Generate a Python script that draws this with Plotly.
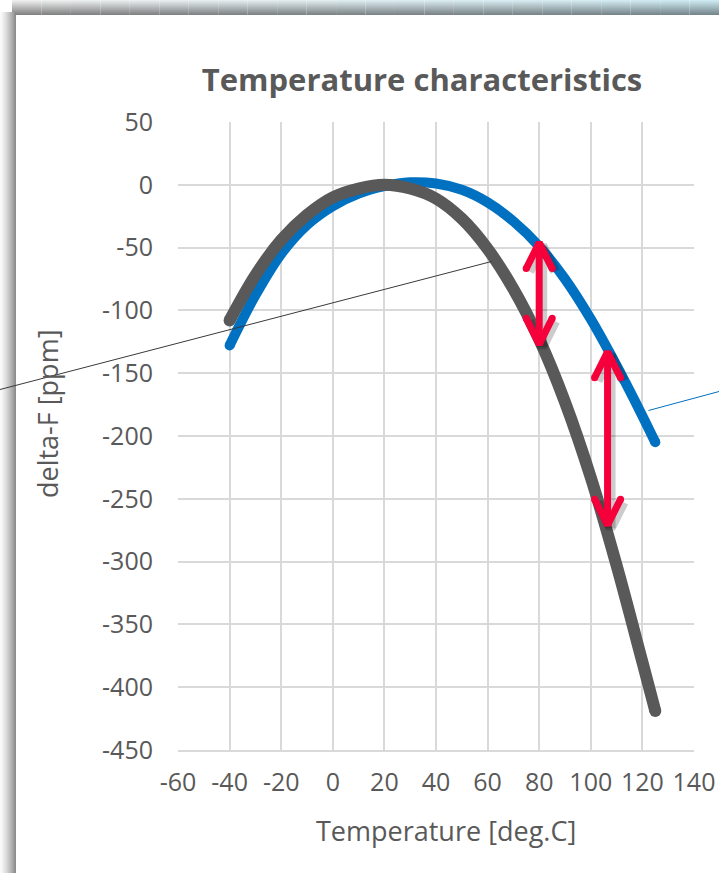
import plotly.graph_objects as go

# ---------------- data ----------------
TEMP = [-40, -30, -20, -10, 0, 10, 20, 30, 40, 50, 60, 70, 80, 90, 100, 110, 120, 125]
DF_GRAY = [-108, -72, -44, -24, -10, -3, 0, -3, -11, -27, -51, -83, -123, -173, -233, -303, -380, -419]
DF_BLUE = [-128, -88, -55, -32, -17, -7, -1, 2, 1, -4, -14, -29, -49, -75, -107, -144, -184, -205]

ARROW_T = [80, 106.5]
ARROW_FROM = [-46, -133]
ARROW_TO = [-127, -271]

X_TICKS = list(range(-60, 141, 20))
Y_TICKS = list(range(-450, 51, 50))
X_RANGE = [-60, 140]
Y_RANGE = [-450, 50]

TITLE = "Temperature characteristics"
X_TITLE = "Temperature [deg.C]"
Y_TITLE = "delta-F [ppm]"

# ---------------- layout geometry ----------------
W, H = 719, 873
ML, MR, MT, MB = 178, 25, 122, 123
PW = W - ML - MR
PH = H - MT - MB
KX = PW / (X_RANGE[1] - X_RANGE[0])   # px per degree
KY = PH / (Y_RANGE[1] - Y_RANGE[0])   # px per ppm


def px(xp):
    return (xp - ML) / PW


def py(yp):
    return (H - MB - yp) / PH


TXT = "#595959"
GRID = "#d9d9d9"
GRAY = "#595959"
BLUE = "#0070C0"
RED = "#F5003A"
FONT = "Open Sans"

fig = go.Figure()

# curves
for vals, col, w in [(DF_BLUE, BLUE, 10), (DF_GRAY, GRAY, 12)]:
    fig.add_trace(go.Scatter(x=TEMP, y=vals, mode="lines",
                             line=dict(color=col, width=w, shape="spline", smoothing=1.0),
                             hoverinfo="skip", showlegend=False))
    fig.add_trace(go.Scatter(x=[TEMP[0], TEMP[-1]], y=[vals[0], vals[-1]], mode="markers",
                             marker=dict(color=col, size=w, line=dict(width=0)),
                             hoverinfo="skip", showlegend=False))

# double arrows
HEAD_W_PX, HEAD_H_PX = 13, 26
LW = 7
dx = HEAD_W_PX / KX
dy = HEAD_H_PX / KY


def arrow_path(t, y0, y1, ox=0.0, oy=0.0):
    xs, ys = [], []
    top, bot = max(y0, y1), min(y0, y1)
    xs += [t + ox, t + ox, None]
    ys += [top + oy, bot + oy, None]
    xs += [t - dx + ox, t + ox, t + dx + ox, None]
    ys += [top - dy + oy, top + oy, top - dy + oy, None]
    xs += [t - dx + ox, t + ox, t + dx + ox, None]
    ys += [bot + dy + oy, bot + oy, bot + dy + oy, None]
    return xs, ys


for t, a, b in zip(ARROW_T, ARROW_FROM, ARROW_TO):
    sx, sy = arrow_path(t, a, b, 3 / KX, -3 / KY)
    fig.add_trace(go.Scatter(x=sx, y=sy, mode="lines",
                             line=dict(color="rgba(0,0,0,0.2)", width=LW + 3),
                             hoverinfo="skip", showlegend=False))
for t, a, b in zip(ARROW_T, ARROW_FROM, ARROW_TO):
    ax_, ay_ = arrow_path(t, a, b)
    fig.add_trace(go.Scatter(x=ax_, y=ay_, mode="lines",
                             line=dict(color=RED, width=LW),
                             hoverinfo="skip", showlegend=False))
    ex = [t - dx, t + dx, t - dx, t + dx]
    ey = [max(a, b) - dy, max(a, b) - dy, min(a, b) + dy, min(a, b) + dy]
    fig.add_trace(go.Scatter(x=ex, y=ey, mode="markers",
                             marker=dict(color=RED, size=LW, line=dict(width=0)),
                             hoverinfo="skip", showlegend=False))

# ---------------- frame (decorative shadow bands) ----------------
shapes = []


def mix(c1, c2, f):
    return "rgb(%d,%d,%d)" % tuple(round(c1[i] + (c2[i] - c1[i]) * f) for i in range(3))


TOP_BAND = 15
SEG = 24
for i in range(TOP_BAND):
    f = i / (TOP_BAND - 1)
    for j in range(SEG):
        s = j / (SEG - 1)
        ctop = tuple(round(a + (b - a) * s) for a, b in zip((238, 238, 238), (205, 233, 241)))
        cbot = tuple(round(a + (b - a) * s) for a, b in zip((130, 130, 130), (118, 134, 140)))
        x0 = 12 + (W - 12) * j / SEG
        x1 = 12 + (W - 12) * (j + 1) / SEG
        shapes.append(dict(type="rect", xref="paper", yref="paper",
                           x0=px(x0), x1=px(x1), y0=py(i), y1=py(i + 1),
                           fillcolor=mix(ctop, cbot, f), line=dict(width=0), layer="below"))

LEFT_BAND = 16
for k in range(LEFT_BAND):
    f = k / (LEFT_BAND - 1)
    shapes.append(dict(type="rect", xref="paper", yref="paper",
                       x0=px(k), x1=px(k + 1), y0=py(12), y1=py(H),
                       fillcolor=mix((250, 250, 250), (140, 140, 140), f ** 1.3),
                       line=dict(width=0), layer="below"))

# leader lines (callout pointers)
shapes.append(dict(type="line", xref="paper", yref="paper",
                   x0=px(0), y0=py(389.5), x1=px(491.5), y1=py(261.5),
                   line=dict(color="#3a3a3a", width=1), layer="above"))
shapes.append(dict(type="line", xref="paper", yref="paper",
                   x0=px(648.5), y0=py(410.5), x1=px(W), y1=py(391.5),
                   line=dict(color=BLUE, width=1), layer="above"))

annotations = [
    dict(text=X_TITLE, xref="paper", yref="paper", x=px(445.5), y=py(830),
         xanchor="center", yanchor="middle", showarrow=False,
         font=dict(family=FONT, size=27, color=TXT)),
    dict(text=Y_TITLE, xref="paper", yref="paper", x=px(47), y=py(414),
         xanchor="center", yanchor="middle", showarrow=False, textangle=-90,
         font=dict(family=FONT, size=27, color=TXT)),
]

fig.update_layout(
    template="none",
    width=W, height=H, autosize=False,
    margin=dict(l=ML, r=MR, t=MT, b=MB, pad=0, autoexpand=False),
    paper_bgcolor="white", plot_bgcolor="white",
    showlegend=False,
    title=dict(text=TITLE, x=422 / W, xanchor="center", y=1 - 80 / H, yanchor="middle",
               yref="container", xref="container",
               font=dict(family=FONT, size=31, color=TXT, weight=700)),
    xaxis=dict(range=X_RANGE, tickvals=X_TICKS, ticktext=[str(v) for v in X_TICKS],
               showgrid=True, gridcolor=GRID, gridwidth=2, zeroline=False,
               showline=True, linecolor=GRID, linewidth=2, ticks="",
               ticklabelstandoff=9, automargin=False,
               tickfont=dict(family=FONT, size=25, color=TXT), fixedrange=True),
    yaxis=dict(range=Y_RANGE, tickvals=Y_TICKS, ticktext=[str(v) for v in Y_TICKS],
               showgrid=True, gridcolor=GRID, gridwidth=2, zeroline=False,
               showline=False, ticks="", ticklabelstandoff=24, automargin=False,
               tickfont=dict(family=FONT, size=25, color=TXT), fixedrange=True),
    shapes=shapes,
    annotations=annotations,
)

fig.write_html("out.html", config={"displayModeBar": False, "responsive": False},
               post_script="document.body.style.margin='0';document.body.style.overflow='hidden';"
                           "document.documentElement.style.overflow='hidden';")
